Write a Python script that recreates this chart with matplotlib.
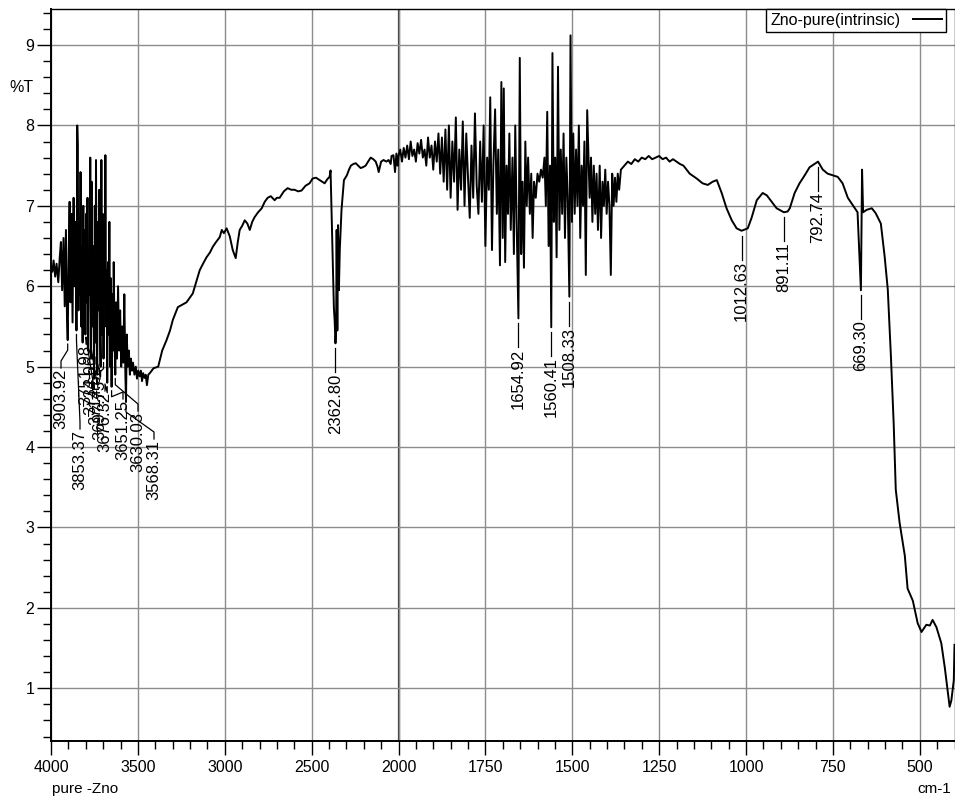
import numpy as np
import matplotlib
matplotlib.use("Agg")
import matplotlib.pyplot as plt
from matplotlib.ticker import FixedLocator, FixedFormatter
from matplotlib.transforms import IdentityTransform

plt.rcParams['font.family'] = ['Liberation Sans', 'DejaVu Sans']

# FTIR spectrum: wavenumber (cm-1) and %T
wavenumber = [
    # 4000-3430, noisy O-H region
    4000, 3992, 3985, 3976, 3968, 3958, 3950, 3943, 3936, 3928, 3921, 3914, 3908,
    3903.92, 3898, 3893, 3888, 3882, 3876, 3870, 3864, 3858, 3853.37, 3849, 3846,
    3842, 3838, 3834, 3830, 3826, 3822, 3818, 3814, 3810, 3806, 3802, 3798, 3794,
    3790, 3786, 3782, 3778, 3774, 3770, 3766, 3762, 3758, 3751.98, 3748, 3744,
    3741, 3737, 3734.06, 3730, 3726, 3722, 3718, 3714.62, 3710, 3706, 3702,
    3697.75, 3694, 3690, 3687, 3683, 3680, 3676.32, 3672, 3668, 3664, 3660, 3656,
    3651.25, 3647, 3643, 3639, 3634, 3630.03, 3625, 3620, 3614, 3608, 3602, 3596,
    3590, 3584, 3578, 3572, 3568.31, 3564, 3558, 3552, 3546, 3540, 3534, 3528,
    3520, 3512, 3505, 3498, 3490, 3483, 3476, 3470, 3462, 3455, 3448, 3440, 3431,
    # 3430-2000, broad rise and CO2 band
    3410, 3383, 3360, 3335, 3315, 3299, 3270, 3245, 3220, 3200, 3184, 3165, 3144,
    3125, 3105, 3085, 3069, 3050, 3029, 3017, 3005, 2989, 2971, 2954, 2937, 2925,
    2914, 2900, 2885, 2870, 2856, 2842, 2828, 2808, 2787, 2770, 2753, 2735, 2713,
    2700, 2684, 2660, 2638, 2618, 2598, 2578, 2558, 2535, 2512, 2494, 2475, 2454,
    2440, 2425, 2410, 2397, 2391, 2387, 2379, 2372, 2367, 2362.80, 2359, 2356,
    2352, 2348, 2343, 2338, 2328, 2314, 2297, 2285, 2274, 2260, 2246, 2232, 2218,
    2205, 2189, 2175, 2160, 2145, 2131, 2120, 2114, 2100, 2086, 2070, 2057, 2045,
    2040, 2029, 2020, 2012, 2005,
    # 2000-1360, noisy water/bending region
    2000, 1995, 1990, 1985, 1980, 1975, 1970, 1965, 1960, 1955, 1950, 1945, 1940,
    1935, 1930, 1925, 1920, 1915, 1910, 1905, 1900, 1895, 1890, 1885, 1880, 1875,
    1870, 1865, 1860, 1855, 1850, 1845, 1840, 1835, 1830, 1825, 1820, 1815, 1810,
    1805, 1800, 1795, 1790, 1785, 1780, 1775, 1770, 1765, 1760, 1755, 1750, 1745,
    1740, 1736, 1731, 1727, 1722, 1717, 1713, 1708, 1704, 1700, 1697, 1693, 1689,
    1685, 1681, 1677, 1672, 1668, 1664, 1660, 1654.92, 1651, 1647, 1643, 1639,
    1635, 1631, 1627, 1622, 1618, 1614, 1610, 1605, 1600, 1595, 1590, 1585, 1580,
    1576, 1572, 1568, 1564, 1560.41, 1557, 1553, 1549, 1545, 1541, 1537, 1533,
    1529, 1525, 1521, 1517, 1513, 1508.33, 1505, 1501, 1497, 1493, 1489, 1485,
    1481, 1477, 1473, 1469, 1465, 1461, 1457, 1450, 1446, 1442, 1438, 1434, 1430,
    1426, 1421, 1417, 1413, 1409, 1405, 1401, 1397, 1393, 1389, 1385, 1381, 1377,
    1373, 1369, 1365, 1360,
    # 1360-400, smooth part and Zn-O band
    1350, 1340, 1330, 1320, 1310, 1300, 1290, 1280, 1270, 1260, 1250, 1240, 1230,
    1220, 1210, 1200, 1190, 1180, 1162, 1142, 1125, 1110, 1096, 1084, 1070, 1056,
    1041, 1027, 1012.63, 995, 984, 969, 952, 940, 926, 912, 891.11, 880, 874, 860,
    846, 831, 817, 792.74, 779, 765, 750, 736, 722, 707, 687, 679, 669.30, 666,
    663, 653, 638, 627, 612, 601, 592, 583, 575, 569, 558, 543, 535, 520, 506,
    495, 481, 471, 463, 452, 438, 428, 419, 414, 409, 402, 400,
]
transmittance = [
    6.25, 6.18, 6.32, 6.12, 6.28, 6.05, 6.35, 6.55, 5.95, 6.60, 5.75, 6.70, 5.60,
    5.33, 6.40, 7.05, 5.80, 6.90, 5.55, 7.10, 6.00, 6.80, 5.45, 8.00, 7.75,
    5.70, 6.70, 5.90, 7.42, 5.50, 6.50, 5.30, 7.00, 5.60, 6.70, 5.40, 6.90, 5.80,
    7.10, 5.20, 6.30, 5.90, 7.60, 5.10, 7.30, 5.50, 6.50, 4.85, 7.00, 5.30,
    7.57, 5.60, 4.90, 6.80, 5.70, 7.20, 5.50, 5.00, 7.57, 5.40, 6.90,
    5.10, 6.60, 5.90, 7.63, 5.50, 6.20, 4.80, 6.30, 5.40, 6.80, 5.00, 6.10,
    4.75, 5.90, 5.20, 6.30, 5.30, 4.90, 5.80, 5.10, 6.00, 5.20, 5.70, 5.00,
    5.50, 5.05, 5.90, 4.90, 4.56, 5.40, 5.00, 5.20, 4.90, 5.10, 4.95, 5.05,
    4.90, 5.00, 4.85, 4.95, 4.88, 4.95, 4.82, 4.92, 4.86, 4.90, 4.77, 4.90, 4.92,
    4.98, 5.00, 5.20, 5.33, 5.45, 5.58, 5.74, 5.77, 5.80, 5.86, 5.91, 6.05, 6.20,
    6.28, 6.36, 6.42, 6.49, 6.55, 6.61, 6.70, 6.66, 6.72, 6.62, 6.45, 6.35, 6.55,
    6.70, 6.75, 6.82, 6.78, 6.70, 6.80, 6.86, 6.92, 6.97, 7.05, 7.10, 7.12, 7.07,
    7.10, 7.10, 7.18, 7.22, 7.20, 7.20, 7.18, 7.19, 7.25, 7.28, 7.34, 7.35, 7.32,
    7.30, 7.28, 7.33, 7.36, 7.44, 7.07, 6.33, 5.74, 5.55, 5.29, 5.45, 6.70,
    5.45, 6.76, 5.95, 6.45, 6.95, 7.32, 7.38, 7.45, 7.50, 7.52, 7.53, 7.50, 7.47,
    7.48, 7.50, 7.55, 7.60, 7.58, 7.55, 7.48, 7.42, 7.55, 7.57, 7.55, 7.57, 7.52,
    7.62, 7.63, 7.42, 7.65, 7.50,
    7.62, 7.70, 7.55, 7.72, 7.60, 7.75, 7.58, 7.80, 7.62, 7.70, 7.55, 7.78, 7.65,
    7.82, 7.60, 7.70, 7.50, 7.85, 7.60, 7.75, 7.45, 7.80, 7.55, 7.90, 7.40, 7.85,
    7.30, 7.95, 7.20, 8.00, 7.10, 7.80, 7.30, 8.10, 6.95, 7.70, 7.20, 8.05, 7.00,
    7.90, 7.35, 6.85, 7.75, 7.10, 8.15, 7.25, 6.90, 7.80, 7.05, 8.00, 6.50, 7.60,
    7.20, 8.35, 6.45, 7.50, 8.20, 6.90, 7.70, 6.26, 8.54, 6.60, 8.46, 6.30, 7.50,
    6.90, 7.90, 6.70, 7.60, 6.40, 8.00, 6.80, 5.60, 8.84, 6.40, 7.30, 6.23,
    7.80, 7.00, 7.60, 6.90, 7.40, 6.60, 7.30, 7.10, 7.40, 7.30, 7.45, 7.35, 7.60,
    7.00, 8.17, 6.50, 7.50, 5.49, 8.90, 6.80, 7.60, 6.36, 8.73, 6.70, 7.70,
    6.90, 7.90, 6.60, 7.60, 7.10, 5.87, 9.12, 6.80, 7.90, 6.90, 7.70, 7.00,
    8.00, 6.60, 7.50, 7.00, 7.80, 6.14, 8.19, 7.10, 7.60, 6.80, 7.50, 6.90, 7.40,
    6.70, 7.50, 6.60, 7.30, 7.00, 7.45, 6.90, 7.30, 7.00, 6.14, 7.40, 7.00, 7.35,
    7.05, 7.40, 7.20, 7.45,
    7.50, 7.55, 7.52, 7.58, 7.55, 7.60, 7.58, 7.62, 7.58, 7.60, 7.62, 7.58, 7.60,
    7.55, 7.58, 7.55, 7.52, 7.50, 7.40, 7.34, 7.28, 7.26, 7.30, 7.32, 7.16, 6.97,
    6.82, 6.72, 6.69, 6.72, 6.85, 7.07, 7.16, 7.13, 7.05, 6.97, 6.92, 6.93, 6.97, 7.16,
    7.28, 7.38, 7.48, 7.55, 7.45, 7.40, 7.38, 7.36, 7.28, 7.10, 6.97, 6.92, 5.95, 7.45,
    6.92, 6.95, 6.97, 6.91, 6.78, 6.37, 5.96, 5.13, 4.29, 3.47, 3.06, 2.65, 2.24,
    2.09, 1.81, 1.70, 1.79, 1.78, 1.85, 1.76, 1.56, 1.26, 0.94, 0.77, 0.85, 1.10, 1.54,
]

# picked peaks: label text, peak wavenumber
peak_labels = ['3903.92', '3853.37', '3751.98', '3734.06', '3714.62', '3697.75',
               '3676.32', '3651.25', '3630.03', '3568.31', '2362.80', '1654.92',
               '1560.41', '1508.33', '1012.63', '891.11', '792.74', '669.30']
peak_pos = [float(s) for s in peak_labels]

# label layout for the crowded 3900-3500 group (text x in px, text top in px)
crowded_x = [61, 80, 86, 91, 96, 100, 105, 123, 138, 154]
crowded_top = [369, 430, 345, 355, 365, 380, 392, 400, 412, 440]

W, H = 955, 799


def fwd(w):
    w = np.asarray(w, dtype=float)
    return np.where(w > 2000, 2000 + (w - 2000) / 2.0, w)


def inv(u):
    u = np.asarray(u, dtype=float)
    return np.where(u > 2000, 2000 + (u - 2000) * 2.0, u)


fig = plt.figure(figsize=(W / 100, H / 100), dpi=100)
ax = fig.add_axes([51 / W, 1 - 740.7 / H, 903.5 / W, 731.7 / H])

ax.set_xscale('function', functions=(fwd, inv))
ax.set_xlim(4000, 400)
ax.set_ylim(0.348, 9.448)

ax.plot(wavenumber, transmittance, color='black', lw=1.4, label='Zno-pure(intrinsic)',
        zorder=3)

# ticks
xmajor = [4000, 3500, 3000, 2500, 2000, 1750, 1500, 1250, 1000, 750, 500]
xminor = [w for w in range(3900, 2000, -100) if w % 500] + \
         [w for w in range(1950, 399, -50) if w % 250]
ax.xaxis.set_major_locator(FixedLocator(xmajor))
ax.xaxis.set_major_formatter(FixedFormatter([str(w) for w in xmajor]))
ax.xaxis.set_minor_locator(FixedLocator(xminor))
ax.yaxis.set_major_locator(FixedLocator(list(range(1, 10))))
ax.yaxis.set_major_formatter(FixedFormatter([str(v) for v in range(1, 10)]))
ax.yaxis.set_minor_locator(FixedLocator(np.arange(0.4, 9.45, 0.2)))
ax.tick_params(which='major', direction='out', length=10, width=1, labelsize=11.5,
               pad=2)
ax.tick_params(which='minor', direction='out', length=5.5, width=1)
ax.tick_params(axis='x', which='major', pad=4)

ax.grid(which='major', color='#8c8c8c', lw=1.0, zorder=0)
ax.axvline(2000, color='#3a3a3a', lw=1.6, zorder=1)
for side in ['left', 'bottom']:
    ax.spines[side].set_linewidth(1.4)
for side in ['top', 'right']:
    ax.spines[side].set_linewidth(1.0)

leg = ax.legend(loc='upper right', bbox_to_anchor=(946 / W, 1 - 9 / H),
                bbox_transform=fig.transFigure, frameon=True, fancybox=False,
                framealpha=1, edgecolor='black', fontsize=11.5, markerfirst=False,
                borderpad=0.25, handlelength=1.8, handletextpad=0.8,
                borderaxespad=0)
leg.get_frame().set_linewidth(1.0)

fig.text(9 / W, 1 - 88 / H, '%T', fontsize=11.5, va='center', ha='left')
fig.text(52 / W, 1 - 789 / H, 'pure -Zno', fontsize=11, va='center', ha='left')
fig.text(951 / W, 1 - 789 / H, 'cm-1', fontsize=11, va='center', ha='right')

# peak labels with leader lines, worked out in pixel space
idt = IdentityTransform()
fig.canvas.draw()
for i, (lab, pos) in enumerate(zip(peak_labels, peak_pos)):
    j = int(np.argmin(np.abs(np.array(wavenumber) - pos)))
    px, py = ax.transData.transform((pos, transmittance[j]))
    py_top = H - py  # measured from the top
    if i < len(crowded_x):
        tx, ttop = crowded_x[i], crowded_top[i]
        xs = [px, px, tx, tx]
        ys = [py_top + 4, py_top + 10, ttop - 8, ttop - 1]
    else:
        tx, ttop = px, py_top + 30
        xs = [px, px]
        ys = [py_top + 5, ttop - 1]
    ax.plot(xs, [H - y for y in ys], color='black', lw=0.9, transform=idt,
            clip_on=False, zorder=4)
    ax.text(tx, H - ttop, lab, rotation=90, ha='center', va='top', fontsize=12,
            transform=idt, zorder=4)

fig.savefig('out.png', dpi=100)
